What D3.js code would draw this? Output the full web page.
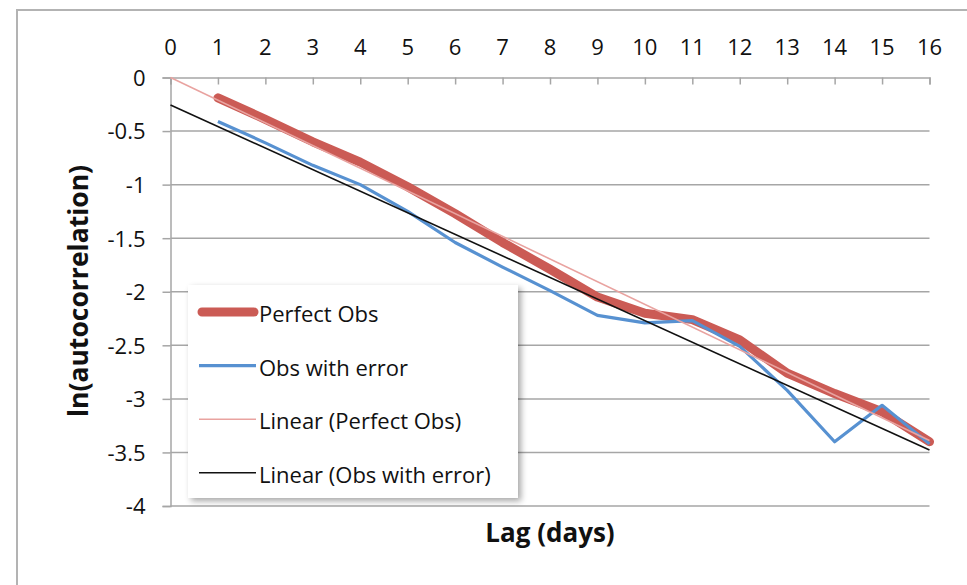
<!DOCTYPE html>
<html>
<head>
<meta charset="utf-8">
<script src="https://cdn.jsdelivr.net/npm/d3@7"></script>
<style>
  html, body { margin: 0; padding: 0; background: #fff; }
  svg { display: block; }
  text { font-family: "Open Sans", Lato, sans-serif; fill: #111; }
</style>
</head>
<body>
<svg id="chart" width="967" height="585"></svg>
<script>
// Lags (days) and natural log of the autocorrelation at each lag
const lags = [1, 2, 3, 4, 5, 6, 7, 8, 9, 10, 11, 12, 13, 14, 15, 16];
const perfectObs = [-0.19, -0.39, -0.60, -0.79, -1.02, -1.27, -1.54, -1.79, -2.05, -2.20, -2.26, -2.45, -2.76, -2.95, -3.12, -3.40];
const obsWithError = [-0.41, -0.61, -0.82, -1.00, -1.25, -1.54, -1.77, -1.99, -2.22, -2.29, -2.27, -2.51, -2.92, -3.40, -3.06, -3.42];
const xTicks = [0, 1, 2, 3, 4, 5, 6, 7, 8, 9, 10, 11, 12, 13, 14, 15, 16];
const yTicks = [0, -0.5, -1, -1.5, -2, -2.5, -3, -3.5, -4];
const seriesNames = ["Perfect Obs", "Obs with error", "Linear (Perfect Obs)", "Linear (Obs with error)"];

const svg = d3.select("#chart");

// outer chart frame (top and left edges visible)
svg.append("path")
  .attr("d", "M17,585 V10 H967")
  .attr("fill", "none").attr("stroke", "#b3b3b3").attr("stroke-width", 2);

const x = d3.scaleLinear().domain([0, 16]).range([170.5, 929.5]);
const y = d3.scaleLinear().domain([-4, 0]).range([506, 77.5]);

const grid = "#a6a6a6";

// horizontal gridlines
svg.append("g").selectAll("line").data(yTicks.filter(v => v !== 0)).join("line")
  .attr("x1", x(0)).attr("x2", x(16))
  .attr("y1", d => y(d)).attr("y2", d => y(d))
  .attr("stroke", grid).attr("stroke-width", 1.5);

// x axis along the top (value 0), ticks hanging down
const xAxis = d3.axisBottom(x).tickValues(xTicks).tickSize(7).tickFormat(d => String(d));
const gx = svg.append("g").attr("transform", `translate(0,${y(0)})`).call(xAxis);
gx.select(".domain").attr("stroke", grid).attr("stroke-width", 1.5);
gx.selectAll(".tick line").attr("stroke", grid).attr("stroke-width", 1.5);
gx.selectAll(".tick text").remove();

// lag labels above the plot
svg.append("g").selectAll("text").data(xTicks).join("text")
  .attr("x", d => x(d)).attr("y", 55)
  .attr("text-anchor", "middle")
  .style("font-size", "22px")
  .text(d => String(d));

// y axis
const yAxis = d3.axisLeft(y).tickValues(yTicks).tickSize(8).tickFormat(d => String(d));
const gy = svg.append("g").attr("transform", `translate(${x(0)},0)`).call(yAxis);
gy.select(".domain").attr("stroke", grid).attr("stroke-width", 1.5);
gy.selectAll(".tick line").attr("stroke", grid).attr("stroke-width", 1.5);
gy.selectAll(".tick text")
  .attr("x", -25).attr("dy", "0.36em")
  .style("font-size", "22px").style("font-family", "'Open Sans', sans-serif").attr("fill", "#111");

// least-squares fits
function fitOrigin(xs, ys) {
  const sxy = d3.sum(xs, (v, i) => v * ys[i]);
  const sxx = d3.sum(xs, v => v * v);
  return { slope: sxy / sxx, intercept: 0 };
}
function fitOLS(xs, ys) {
  const mx = d3.mean(xs), my = d3.mean(ys);
  const sxy = d3.sum(xs, (v, i) => (v - mx) * (ys[i] - my));
  const sxx = d3.sum(xs, v => (v - mx) * (v - mx));
  const slope = sxy / sxx;
  return { slope, intercept: my - slope * mx };
}
const fitPerfect = fitOrigin(lags, perfectObs);
const fitError = fitOLS(lags, obsWithError);
const trend = f => [0, 16].map(t => [t, f.intercept + f.slope * t]);

const line = d3.line().x(d => x(d[0])).y(d => y(d[1]));
const pairs = vals => lags.map((l, i) => [l, vals[i]]);

const red = "#cb5b55", blue = "#5791d1", pink = "#e9a3a0", black = "#111";

const plot = svg.append("g");
plot.append("path").datum(pairs(perfectObs)).attr("d", line)
  .attr("fill", "none").attr("stroke", red).attr("stroke-width", 9)
  .attr("stroke-linecap", "round").attr("stroke-linejoin", "round");
plot.append("path").datum(pairs(obsWithError)).attr("d", line)
  .attr("fill", "none").attr("stroke", blue).attr("stroke-width", 3.2)
  .attr("stroke-linejoin", "round");
plot.append("path").datum(trend(fitPerfect)).attr("d", line)
  .attr("fill", "none").attr("stroke", pink).attr("stroke-width", 1.6);
plot.append("path").datum(trend(fitError)).attr("d", line)
  .attr("fill", "none").attr("stroke", black).attr("stroke-width", 1.6);

// legend box with soft shadow
const defs = svg.append("defs");
const f = defs.append("filter").attr("id", "shadow").attr("x", "-10%").attr("y", "-10%").attr("width", "130%").attr("height", "130%");
f.append("feGaussianBlur").attr("in", "SourceAlpha").attr("stdDeviation", 3);
f.append("feOffset").attr("dx", 3).attr("dy", 3).attr("result", "b");
f.append("feComponentTransfer").append("feFuncA").attr("type", "linear").attr("slope", 0.35);
const m = f.append("feMerge");
m.append("feMergeNode");
m.append("feMergeNode").attr("in", "SourceGraphic");

const legend = svg.append("g");
legend.append("rect")
  .attr("x", 188).attr("y", 285).attr("width", 330).attr("height", 213)
  .attr("fill", "#fff").attr("filter", "url(#shadow)");

const legendStyles = [
  { color: red, width: 9, cap: "round" },
  { color: blue, width: 3.2, cap: "butt" },
  { color: pink, width: 1.6, cap: "butt" },
  { color: black, width: 1.6, cap: "butt" }
];
const item = legend.selectAll("g.item").data(seriesNames).join("g")
  .attr("class", "item")
  .attr("transform", (d, i) => `translate(0,${312 + i * 53.6})`);
item.append("line")
  .attr("x1", (d, i) => i === 0 ? 202 : 199).attr("x2", (d, i) => i === 0 ? 254 : 256)
  .attr("stroke", (d, i) => legendStyles[i].color)
  .attr("stroke-width", (d, i) => legendStyles[i].width)
  .attr("stroke-linecap", (d, i) => legendStyles[i].cap);
item.append("text")
  .attr("x", 259).attr("y", 10)
  .style("font-size", "22px")
  .text(d => d);

// axis titles
svg.append("text")
  .attr("x", 550).attr("y", 542)
  .attr("text-anchor", "middle")
  .style("font-size", "26px").style("font-weight", "bold")
  .text("Lag (days)");
svg.append("text")
  .attr("transform", "translate(88,291) rotate(-90)")
  .attr("text-anchor", "middle")
  .style("font-size", "26.5px").style("font-weight", "bold")
  .text("ln(autocorrelation)");
</script>
</body>
</html>
